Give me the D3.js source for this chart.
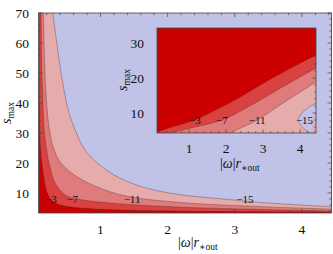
<!DOCTYPE html>
<html>
<head>
<meta charset="utf-8">
<script src="https://cdn.jsdelivr.net/npm/d3@7"></script>
<style>
body { margin: 0; background: #fff; }
svg { display: block; }
text { font-family: "Liberation Serif", "DejaVu Serif", serif; fill: #111; }
</style>
</head>
<body>
<svg id="chart" width="333" height="254"></svg>
<script>
const LEVELS = [-3, -7, -11, -15];
const COLORS = ["#cc0000", "#da4242", "#e07b7b", "#e6acac", "#c1c2e7"];

// main panel contours, points are [|w| r*out, s_max]
const mainC3 = [[0.085,70],[0.09,40],[0.105,25],[0.145,17],[0.2,10.5],[0.27,7.6],[0.4,6],[0.7,5],[1.2,4.4],[2.27,3.9],[4.44,3.6]];
const mainC7 = [[0.115,70],[0.125,52],[0.14,42.7],[0.16,31.7],[0.23,20.3],[0.34,12.7],[0.5,9],[0.79,7.5],[1.28,6.4],[2.27,5.2],[4.44,4.0]];
const mainC11 = [[0.15,70],[0.17,52],[0.19,42.7],[0.235,31.7],[0.3,25],[0.41,20],[0.68,15],[1.13,10.5],[1.5,8.5],[2.27,6.7],[3.23,5.6],[4.44,4.6]];
const mainC15 = [[0.29,70],[0.4,52],[0.47,42.7],[0.52,37.7],[0.61,31.7],[0.79,23.7],[1.13,17],[1.53,12.7],[2.02,10],[2.97,7.7],[3.6,6.5],[4.44,5.4]];
const mainLabelPos = [[0.26,8],[0.58,8],[1.47,8],[3.15,8]];

// inset contours
const insetC3 = [[0.135,4.6],[0.5,5.9],[1.16,8],[1.7,10.8],[2.24,13.7],[3.3,20.3],[4.43,26.6]];
const insetC7 = [[0.49,4.3],[1.0,5.6],[1.89,8],[2.6,11.8],[3.5,17.3],[4.43,22.9]];
const insetC11 = [[2.1,4.3],[2.5,6.2],[2.84,8],[3.6,13.3],[4.43,18.9]];
const insetC15 = [[4.43,12.8],[4.15,11],[3.95,8],[4.1,5.6],[4.3,4.3]];
const insetLabelPos = [[1.16,8],[1.89,8],[2.84,8],[4.12,8]];

const MAIN_X_TICKS = [1, 2, 3, 4];
const MAIN_Y_TICKS = [10, 20, 30, 40, 50, 60, 70];
const INSET_X_TICKS = [1, 2, 3, 4];
const INSET_Y_TICKS = [10, 20, 30];

var svg = d3.select("#chart");
var defs = svg.append("defs");

function minorTicks(domain, step, majors){
    return d3.range(Math.ceil(domain[0]/step)*step, domain[1], step)
        .filter(v => !majors.some(m => Math.abs(m - v) < step/10));
}

function addLabel(g, x, y, opts){
    var t = g.append("text")
        .attr("transform", "translate(" + x + "," + y + ")" + (opts.rotate ? " rotate(-90)" : ""))
        .attr("font-size", 14);
    if (opts.kind == "s"){
        t.attr("text-anchor", "middle");
        t.append("tspan").attr("font-style", "italic").text("s");
        t.append("tspan").attr("font-size", 9.5).attr("dy", 3).text("max");
    } else {
        t.append("tspan").text("|");
        t.append("tspan").attr("font-style", "italic").text("ω");
        t.append("tspan").text("|");
        t.append("tspan").attr("font-style", "italic").text("r");
        t.append("tspan").attr("font-size", 9.5).attr("dy", 3).text("∗out");
    }
}

function drawPanel(p){
    var x = d3.scaleLinear().domain(p.xDomain).range([p.left, p.right]);
    var y = d3.scaleLinear().domain(p.yDomain).range([p.bottom, p.top]);
    var g = svg.append("g");

    defs.append("clipPath").attr("id", "clip-" + p.name)
        .append("rect")
        .attr("x", p.left).attr("y", p.top)
        .attr("width", p.right - p.left).attr("height", p.bottom - p.top);

    var plot = g.append("g").attr("clip-path", "url(#clip-" + p.name + ")");
    plot.append("rect")
        .attr("x", p.left).attr("y", p.top)
        .attr("width", p.right - p.left).attr("height", p.bottom - p.top)
        .attr("fill", COLORS[0]);

    var line = d3.line().x(d => x(d[0])).y(d => y(d[1])).curve(d3.curveCatmullRom);

    // region beyond each level, painted from the weakest level outwards
    p.contours.forEach((c, i) => {
        var close = p.corners[i].map(k => "L" + x(k[0]) + "," + y(k[1])).join("");
        plot.append("path")
            .attr("d", line(c) + close + "Z")
            .attr("fill", COLORS[i + 1]);
    });
    p.contours.forEach(c => {
        plot.append("path")
            .attr("d", line(c))
            .attr("fill", "none")
            .attr("stroke", "rgba(70,40,40,0.5)")
            .attr("stroke-width", 0.7);
    });

    plot.selectAll("text.clabel")
        .data(p.labelPos)
        .enter()
        .append("text")
        .attr("class", "clabel")
        .attr("x", d => x(d[0]))
        .attr("y", d => y(d[1]))
        .attr("dy", "0.35em")
        .attr("text-anchor", "middle")
        .attr("font-size", 11)
        .text((d, i) => "−" + Math.abs(LEVELS[i]));

    // frame + inward ticks on all sides
    g.append("rect")
        .attr("x", p.left).attr("y", p.top)
        .attr("width", p.right - p.left).attr("height", p.bottom - p.top)
        .attr("fill", "none").attr("stroke", "#444").attr("stroke-width", 0.8);

    var ticks = g.append("g").attr("stroke", "#444").attr("stroke-width", 0.7);
    var xMinor = minorTicks(p.xDomain, 0.2, p.xTicks);
    var yMinor = minorTicks(p.yDomain, 2, p.yTicks);
    [[p.xTicks, p.major], [xMinor, p.minor]].forEach(([vals, len]) => {
        vals.forEach(v => {
            ticks.append("line").attr("x1", x(v)).attr("x2", x(v)).attr("y1", p.bottom).attr("y2", p.bottom - len);
            ticks.append("line").attr("x1", x(v)).attr("x2", x(v)).attr("y1", p.top).attr("y2", p.top + len);
        });
    });
    [[p.yTicks, p.major], [yMinor, p.minor]].forEach(([vals, len]) => {
        vals.forEach(v => {
            ticks.append("line").attr("y1", y(v)).attr("y2", y(v)).attr("x1", p.left).attr("x2", p.left + len);
            ticks.append("line").attr("y1", y(v)).attr("y2", y(v)).attr("x1", p.right).attr("x2", p.right - len);
        });
    });

    g.selectAll("text.xt").data(p.xTicks).enter().append("text")
        .attr("class", "xt")
        .attr("x", d => x(d)).attr("y", p.xTickY)
        .attr("text-anchor", "middle").attr("font-size", 13.5)
        .text(d => d);
    g.selectAll("text.yt").data(p.yTicks).enter().append("text")
        .attr("class", "yt")
        .attr("x", p.yTickX).attr("y", d => y(d))
        .attr("dy", "0.35em")
        .attr("text-anchor", "end").attr("font-size", 13.5)
        .text(d => d);

    addLabel(g, p.xLabel[0], p.xLabel[1], {kind: "w"});
    addLabel(g, p.yLabel[0], p.yLabel[1], {kind: "s", rotate: true});
}

var mainX = [0.077, 4.44], mainY = [3.33, 70];
drawPanel({
    name: "main",
    xDomain: mainX, yDomain: mainY,
    left: 38.5, right: 331.5, top: 13, bottom: 213,
    contours: [mainC3, mainC7, mainC11, mainC15],
    corners: [0, 1, 2, 3].map(() => [[mainX[1], mainY[1]]]),
    labelPos: mainLabelPos,
    xTicks: MAIN_X_TICKS, yTicks: MAIN_Y_TICKS,
    major: 4, minor: 2.2,
    xTickY: 234, yTickX: 29,
    xLabel: [178, 247], yLabel: [11, 113]
});

var insetX = [0.135, 4.43], insetY = [4.3, 34.3];
var insetClose = [[insetX[1], insetY[0]], [insetX[0], insetY[0]]];
drawPanel({
    name: "inset",
    xDomain: insetX, yDomain: insetY,
    left: 157, right: 316, top: 28, bottom: 133,
    contours: [insetC3, insetC7, insetC11, insetC15],
    corners: [insetClose, insetClose, insetClose, []],
    labelPos: insetLabelPos,
    xTicks: INSET_X_TICKS, yTicks: INSET_Y_TICKS,
    major: 3.5, minor: 1.8,
    xTickY: 153, yTickX: 144,
    xLabel: [220, 168], yLabel: [127, 80]
});
</script>
</body>
</html>
